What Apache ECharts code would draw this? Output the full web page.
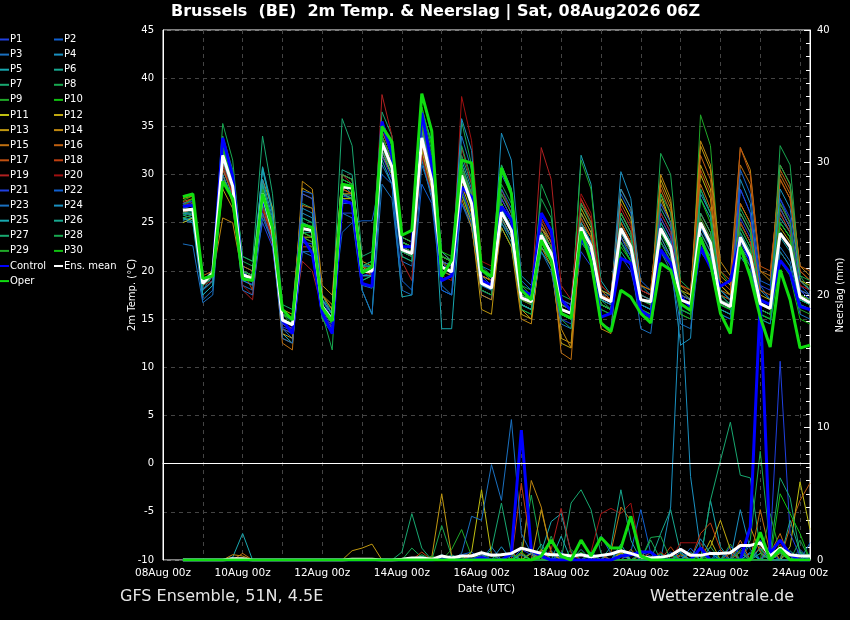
<!DOCTYPE html>
<html><head><meta charset="utf-8">
<script src="https://cdn.jsdelivr.net/npm/echarts/dist/echarts.min.js"></script>
<style>html,body{margin:0;padding:0;background:#000;}#c{width:850px;height:620px;}</style>
</head><body><div id="c"></div>
<script>
// time: hours since 08Aug 00z; first point 08Aug 12z, 6-hourly, 64 points
const firstHour = 12;
const stepHours = 6;
const tickLabels = ['08Aug 00z','10Aug 00z','12Aug 00z','14Aug 00z','16Aug 00z','18Aug 00z','20Aug 00z','22Aug 00z','24Aug 00z'];
const memberNames = ['P1','P2','P3','P4','P5','P6','P7','P8','P9','P10','P11','P12','P13','P14','P15','P16','P17','P18','P19','P20','P21','P22','P23','P24','P25','P26','P27','P28','P29','P30'];
const memberColors = ['#2040e0','#1060d0','#1a70c0','#1a90c0','#18a8b0','#18a890','#18a870','#18a850','#20a828','#10c010',
  '#c0c010','#c0a810','#c09810','#c08810','#c07010','#c06010','#c05010','#c04010','#b02020','#a01010',
  '#2040e0','#1060d0','#1a70c0','#1a90c0','#18a8b0','#18a890','#18a870','#18a850','#20a828','#10c010'];

// ---- 2m temperature (°C) ----
const tControl = [26.7,26.8,19.0,19.7, 33.8,29.8,19.7,19.0, 27.5,24.5,14.9,13.5, 23.5,21.8,15.6,13.5, 27.3,27.0,18.7,18.4, 35.5,32.0,22.5,22.5, 36.4,31.0,19.0,19.5, 28.7,27.7,19.0,18.5, 26.7,25.3,18.0,17.5, 26.0,24.2,17.0,15.9, 23.5,21.5,15.2,15.6, 21.3,20.8,15.9,15.2, 22.2,20.8,17.3,16.3, 22.5,20.4,18.4,19.0, 23.5,21.1,17.0,16.5, 21.1,19.8,16.3,16.0];
const tMean = [26.3,26.4,18.7,19.8, 32.0,28.8,19.6,19.2, 28.0,24.2,14.9,14.4, 24.4,24.2,16.3,14.9, 28.7,28.6,19.9,20.0, 33.3,30.8,22.2,21.8, 33.8,29.4,20.4,19.9, 29.9,27.0,18.7,18.2, 26.1,24.2,17.2,16.8, 23.7,21.8,16.0,15.6, 24.5,22.6,17.3,16.8, 24.4,22.5,17.0,16.8, 24.4,22.5,17.0,16.6, 25.0,22.9,16.8,16.3, 23.5,21.5,16.6,16.1, 23.9,22.5,17.3,16.7];
const tOper = [27.7,28.0,19.2,19.5, 29.3,27.5,19.2,19.0, 28.0,24.5,16.0,14.9, 24.8,24.5,16.2,14.8, 29.0,28.8,19.8,20.4, 35.0,33.4,23.7,24.2, 38.4,34.5,19.4,21.1, 31.5,31.2,20.1,19.4, 30.7,28.0,18.0,17.0, 23.2,21.1,15.6,15.1, 24.1,21.0,14.6,13.7, 18.0,17.3,15.6,14.6, 20.8,20.1,16.6,15.9, 23.5,20.8,15.6,13.5, 22.5,19.4,15.2,12.1, 20.1,17.0,12.0,12.3];

const tP1 = [26.8,27.0,18.5,19.5, 33.0,29.5,19.0,18.6, 27.0,23.5,14.2,13.8, 23.0,22.8,15.8,14.2, 27.8,27.5,19.5,19.8, 33.5,31.5,22.5,22.0, 35.0,31.0,21.0,19.5, 28.5,25.5,17.5,17.0, 25.0,23.5,16.5,16.0, 22.5,21.0,15.0,14.5, 22.0,20.5,16.0,15.5, 21.5,20.0,15.5,15.0, 23.0,21.5,16.0,15.5, 22.5,21.0,16.0,15.5, 25.5,23.5,17.0,16.5, 26.0,24.0,18.0,17.0];
const tP2 = [27.0,27.3,18.9,20.2, 31.5,28.0,20.0,19.5, 29.0,25.0,15.5,14.8, 25.0,24.5,16.5,15.2, 28.0,27.8,20.5,21.0, 34.5,32.0,23.0,22.5, 33.0,28.5,20.0,19.5, 30.5,28.0,19.5,18.5, 27.0,25.0,17.5,17.0, 25.0,23.0,17.0,16.5, 26.0,24.0,18.0,17.5, 28.0,26.0,19.0,18.0, 24.0,22.0,16.5,16.0, 22.0,20.5,15.5,15.0, 28.5,26.0,18.5,17.0, 27.5,25.0,18.5,17.5];
const tP3 = [25.2,25.0,17.0,18.0, 30.5,28.0,18.5,18.0, 27.5,24.0,14.0,13.0, 22.0,22.0,15.0,13.5, 27.0,27.0,18.5,18.2, 31.0,29.0,21.0,20.5, 32.0,28.0,18.0,17.5, 27.0,24.5,18.0,17.5, 27.5,25.5,16.5,16.0, 24.0,22.5,15.5,15.0, 24.5,23.0,17.5,17.5, 25.5,23.5,18.0,17.5, 26.0,24.0,17.5,17.0, 23.0,21.5,16.5,16.0, 22.0,20.5,16.0,15.5, 22.5,21.0,16.5,16.0];
const tP4 = [26.0,26.0,18.0,19.0, 31.0,28.5,20.5,20.0, 30.5,26.0,15.5,15.0, 26.0,25.5,17.0,15.5, 30.0,29.5,20.5,20.5, 35.5,33.0,23.0,22.5, 31.5,27.5,20.5,20.0, 31.5,28.5,18.5,18.0, 34.3,31.5,19.5,18.5, 24.5,22.5,17.0,16.5, 27.0,25.0,18.0,17.0, 30.3,27.5,18.5,17.5, 23.0,21.0,12.3,13.0, 28.5,26.0,18.0,17.0, 29.5,27.0,18.0,17.0, 27.0,25.0,18.0,17.5];
const tP5 = [25.5,25.2,18.0,19.5, 31.0,27.5,19.5,19.0, 30.8,26.5,13.5,12.5, 25.5,25.0,17.5,15.5, 29.0,28.0,18.0,15.5, 31.5,29.0,17.3,17.5, 35.5,31.5,14.0,14.0, 28.0,25.0,18.0,17.5, 26.5,24.5,17.5,17.0, 22.0,20.5,15.5,15.0, 32.0,29.0,19.0,17.5, 26.0,24.0,17.0,16.5, 25.0,23.0,16.5,16.0, 27.5,25.5,17.5,16.5, 24.5,22.5,16.5,16.0, 25.5,24.0,17.0,16.5];
const tP6 = [25.3,25.5,18.5,19.8, 32.5,29.0,20.0,19.5, 28.5,24.5,15.0,14.5, 24.0,24.0,16.0,14.5, 30.5,30.0,20.5,21.0, 34.0,31.5,22.5,22.0, 32.5,28.5,21.0,20.5, 30.5,27.5,19.5,19.0, 24.5,22.5,16.5,16.0, 23.5,22.0,16.5,16.0, 24.0,22.0,17.5,17.0, 24.0,22.0,17.0,16.5, 26.5,24.5,17.5,17.0, 24.0,22.0,16.5,16.0, 23.0,21.0,16.0,15.5, 24.0,22.5,17.0,16.5];
const tP7 = [26.5,26.8,19.0,20.0, 33.5,30.0,21.5,21.0, 34.0,28.0,16.5,16.0, 27.0,26.5,17.0,16.0, 35.8,33.0,21.5,22.0, 36.5,34.0,23.5,23.0, 34.5,30.0,21.5,21.0, 32.0,29.0,20.0,19.0, 28.0,26.0,18.0,17.5, 25.0,23.0,16.5,16.0, 25.5,23.5,17.5,17.0, 24.5,22.5,17.5,17.0, 24.5,22.5,17.0,16.5, 26.0,24.0,17.5,17.0, 25.0,23.0,17.0,16.5, 25.0,23.5,17.5,17.0];
const tP8 = [25.8,26.0,19.0,20.0, 35.3,31.5,21.0,20.5, 29.0,25.0,15.5,15.0, 25.5,25.0,16.5,15.0, 29.5,29.0,20.0,20.5, 33.0,30.5,22.0,21.5, 35.0,31.0,21.0,20.5, 35.5,31.0,20.5,19.5, 29.0,27.0,18.5,18.0, 27.5,25.5,17.5,17.0, 25.0,23.0,17.0,16.5, 25.0,23.0,17.0,16.5, 32.2,30.0,19.0,18.0, 24.5,22.5,16.5,16.0, 24.0,22.0,16.5,16.0, 33.0,31.0,19.5,18.0];
const tP9 = [26.0,26.5,19.0,19.5, 32.0,29.0,19.5,19.0, 27.5,24.0,15.0,14.5, 24.5,24.0,16.0,15.0, 28.5,28.0,19.0,19.5, 32.5,30.0,21.5,21.0, 36.0,32.0,21.0,20.5, 29.5,26.5,18.0,17.5, 31.0,28.5,18.5,17.5, 23.0,21.5,16.0,15.5, 31.5,28.5,18.5,17.5, 23.5,21.5,16.5,16.0, 22.0,20.5,15.5,15.0, 36.2,33.0,20.0,18.5, 22.5,20.5,15.5,15.0, 22.0,20.5,16.0,15.5];
const tP10 = [27.3,27.8,19.0,19.5, 30.0,27.5,19.0,19.0, 28.5,25.0,15.5,14.5, 25.0,24.5,16.5,15.0, 29.0,28.5,20.0,20.0, 34.0,31.5,22.5,22.0, 37.0,33.0,21.5,21.0, 31.0,28.0,19.0,18.5, 24.5,22.5,16.0,15.5, 24.0,22.0,15.5,15.0, 24.0,22.0,16.5,16.0, 23.0,21.0,16.0,15.5, 24.5,22.5,16.5,16.0, 27.5,25.0,17.0,16.0, 21.5,20.0,15.0,14.5, 21.0,19.5,15.0,14.5];
const tP11 = [25.0,25.5,18.0,19.0, 30.0,27.0,20.0,19.5, 26.5,23.5,15.5,15.0, 23.5,23.5,17.0,15.5, 27.5,27.5,20.0,20.0, 32.0,30.0,22.5,22.0, 33.5,29.5,21.5,21.0, 29.5,27.0,19.5,19.0, 27.0,25.0,16.5,16.0, 24.5,23.0,16.5,16.0, 26.5,24.5,18.0,17.5, 27.5,25.5,18.5,18.0, 28.0,25.0,17.5,17.0, 30.0,27.5,18.5,17.5, 25.0,23.0,17.0,16.5, 26.5,24.5,19.0,18.5];
const tP12 = [26.0,26.5,18.5,19.5, 31.5,28.5,19.5,19.0, 29.5,26.5,16.0,15.5, 28.0,27.5,17.5,16.0, 28.0,28.0,20.5,20.0, 33.0,30.5,23.0,22.5, 32.5,28.5,21.0,20.5, 29.0,26.0,19.5,19.0, 25.5,23.5,15.5,15.0, 22.5,21.0,12.5,12.0, 26.0,24.0,16.5,16.0, 24.5,22.5,17.0,16.5, 29.5,27.0,18.0,17.5, 31.0,28.5,18.5,17.5, 27.0,25.0,17.5,17.0, 24.5,23.0,17.5,17.0];
const tP13 = [25.5,25.8,18.0,19.0, 28.5,26.5,19.5,19.0, 26.0,23.0,13.5,13.0, 28.6,28.0,17.5,16.5, 28.0,27.5,20.5,19.5, 33.0,31.0,23.5,23.0, 33.0,29.0,21.0,20.0, 28.0,25.0,16.0,15.5, 25.5,23.5,16.0,15.0, 22.5,20.5,13.0,12.5, 25.0,23.5,16.5,16.0, 23.5,22.0,16.5,16.0, 27.5,25.0,17.5,17.0, 33.0,30.5,19.5,18.5, 26.0,24.0,17.0,16.5, 29.5,27.5,19.0,18.0];
const tP14 = [27.5,27.8,18.5,19.5, 25.5,25.0,19.5,19.5, 27.5,24.5,14.5,14.0, 29.3,28.5,18.5,17.5, 30.0,29.5,21.0,20.5, 32.0,30.0,22.5,22.0, 32.0,28.0,20.0,19.5, 27.5,24.5,17.5,17.0, 24.5,22.5,15.0,14.5, 23.0,21.0,14.0,12.0, 23.5,22.0,14.0,13.5, 26.0,24.0,17.5,17.0, 30.0,27.5,18.5,17.5, 33.5,31.0,21.0,19.5, 32.8,30.5,20.0,19.0, 31.0,29.0,20.5,19.5];
const tP15 = [27.0,27.5,19.0,20.0, 31.0,28.0,20.0,19.5, 26.5,24.0,12.5,11.8, 26.8,26.5,17.5,16.0, 28.5,28.0,20.0,20.0, 32.5,30.5,23.0,22.5, 34.5,30.5,22.0,21.0, 30.0,27.0,19.0,18.5, 27.0,25.0,17.5,17.0, 24.5,22.5,11.5,10.8, 24.0,22.5,17.0,16.5, 25.0,23.0,17.0,16.5, 29.0,26.5,18.5,18.0, 29.0,26.5,18.0,17.5, 31.0,29.0,20.0,19.5, 30.0,28.0,20.0,19.0];
const tP16 = [27.8,28.0,19.5,20.0, 30.5,28.0,20.5,20.0, 28.0,24.5,13.0,12.5, 23.5,23.0,15.5,14.0, 29.0,28.5,20.0,20.5, 33.5,31.0,22.5,22.0, 35.0,31.0,21.5,21.0, 31.0,28.0,19.5,19.0, 26.0,24.0,17.0,16.5, 25.5,23.5,16.0,15.5, 27.0,25.0,18.0,17.0, 28.5,26.5,18.5,18.0, 28.5,26.0,18.0,17.0, 32.0,29.5,20.0,19.0, 27.0,25.0,18.0,17.5, 30.5,28.5,20.5,20.0];
const tP17 = [27.2,27.5,19.0,19.5, 31.5,29.0,20.0,19.0, 26.0,23.0,14.0,13.5, 24.0,23.5,16.0,14.5, 28.0,27.5,19.5,19.5, 34.0,31.5,22.0,21.5, 34.0,30.0,21.5,21.0, 30.5,27.5,19.0,18.5, 25.5,23.5,17.0,16.5, 23.5,22.0,16.0,15.5, 27.5,25.5,17.5,17.0, 27.0,25.0,18.0,17.5, 25.5,23.5,17.5,17.0, 30.5,28.0,19.0,18.0, 32.8,30.0,20.5,20.0, 29.5,27.5,20.0,19.0];
const tP18 = [26.5,27.0,19.0,20.0, 32.5,29.5,20.0,18.0, 27.0,23.5,14.5,14.0, 22.5,22.5,16.0,14.5, 28.5,28.0,20.0,20.0, 34.5,32.0,22.5,22.0, 33.0,29.0,20.5,20.0, 30.0,27.0,19.0,18.5, 27.5,25.5,17.5,17.0, 25.0,23.0,16.5,16.0, 25.5,23.5,17.5,17.0, 25.0,23.0,17.5,17.0, 27.0,25.0,18.5,18.0, 26.0,24.0,17.5,17.0, 23.0,21.5,16.5,16.0, 26.0,24.0,18.0,17.5];
const tP19 = [26.8,27.2,18.8,19.5, 32.0,28.5,18.0,17.0, 27.0,23.0,14.5,14.0, 21.0,20.0,16.0,14.5, 30.0,29.0,20.5,20.0, 38.3,34.0,21.0,19.0, 33.5,29.0,20.5,20.0, 32.8,29.0,20.0,19.5, 28.5,26.0,18.0,17.5, 32.8,29.5,18.5,17.0, 27.5,25.0,18.5,17.5, 26.5,24.5,18.0,17.5, 26.0,24.0,17.5,17.0, 25.5,23.5,17.0,16.5, 25.0,23.0,17.0,16.5, 26.5,24.5,18.5,18.0];
const tP20 = [26.0,26.5,18.5,19.0, 31.0,28.0,18.5,17.5, 26.5,22.5,14.0,13.5, 23.0,22.5,15.5,14.0, 28.0,27.5,20.0,19.5, 33.5,31.0,22.0,21.5, 32.0,28.0,19.5,19.0, 38.1,33.5,21.0,20.5, 28.0,26.0,17.5,17.0, 25.5,23.5,17.0,16.5, 28.0,26.0,18.5,17.5, 24.0,22.0,17.0,16.5, 23.5,21.5,16.5,16.0, 24.0,22.0,16.5,16.0, 22.5,21.0,16.0,15.5, 27.0,25.0,18.5,18.0];
const tP21 = [27.0,27.2,19.0,19.8, 33.0,30.0,20.0,19.5, 25.0,22.5,14.5,14.0, 28.0,27.5,17.0,15.0, 26.0,26.0,19.5,19.5, 32.0,29.5,22.0,21.5, 34.0,30.0,21.0,20.5, 28.5,25.5,18.0,17.5, 27.5,25.5,17.5,17.0, 24.0,22.0,15.5,15.0, 23.5,21.5,16.5,16.0, 23.5,21.5,16.5,16.0, 25.5,23.5,17.0,16.5, 23.5,21.5,16.5,16.0, 28.5,26.0,18.5,18.0, 27.5,25.5,18.0,17.0];
const tP22 = [26.5,26.8,18.0,19.0, 32.5,29.0,19.5,19.0, 26.0,23.0,14.0,13.5, 28.3,28.0,17.0,15.5, 24.0,25.0,25.2,25.2, 30.0,29.0,19.0,18.0, 29.0,27.0,18.0,17.5, 27.0,25.0,18.5,18.0, 30.0,28.0,19.0,18.0, 26.0,24.0,17.0,16.5, 24.0,22.0,17.0,16.5, 23.0,21.5,16.5,16.0, 27.0,25.0,17.5,17.0, 24.5,22.5,16.5,16.0, 30.5,28.0,19.0,18.5, 26.5,24.5,18.0,17.5];
const tP23 = [22.8,22.6,16.7,17.5, 30.0,27.5,18.0,17.5, 25.5,23.0,13.0,12.5, 22.0,21.5,15.5,14.0, 26.0,25.5,18.0,15.5, 29.0,27.5,18.0,17.5, 31.0,28.0,18.5,17.5, 34.0,30.5,20.5,20.0, 28.5,26.5,16.5,16.0, 22.0,20.0,14.5,14.0, 23.5,22.0,14.5,14.0, 23.0,21.0,14.0,13.5, 22.0,20.0,14.5,14.0, 23.0,21.0,15.5,15.0, 21.5,20.0,15.0,14.5, 22.0,20.5,15.5,15.0];
const tP24 = [26.0,25.8,17.5,18.5, 29.5,27.5,19.0,18.5, 29.5,25.5,15.0,14.5, 26.5,26.0,17.0,15.5, 29.5,29.0,20.5,20.5, 33.0,30.5,23.0,22.5, 34.5,30.5,20.5,20.0, 35.8,32.5,20.0,19.5, 26.5,24.5,17.5,17.0, 23.5,22.0,16.0,15.5, 25.0,23.0,17.0,16.5, 28.5,26.5,17.5,17.0, 24.5,22.5,17.0,16.5, 28.0,26.0,18.0,17.0, 23.5,21.5,16.0,15.5, 28.5,26.5,19.0,18.0];
const tP25 = [25.5,25.0,17.5,18.5, 31.5,28.5,19.5,19.0, 30.8,26.0,15.0,14.5, 25.0,24.5,16.5,15.0, 28.0,27.5,19.5,19.5, 33.5,31.0,22.0,21.5, 36.5,33.5,22.0,21.0, 30.5,27.5,19.0,18.5, 25.5,23.5,16.5,16.0, 23.0,21.5,15.5,15.0, 24.0,22.0,16.5,16.0, 24.0,22.0,16.5,16.0, 23.5,21.5,16.0,15.5, 24.0,22.0,16.0,15.5, 22.5,21.0,15.5,15.0, 23.5,22.0,16.5,16.0];
const tP26 = [25.8,25.5,18.5,19.5, 32.0,29.0,20.0,19.5, 29.0,25.0,15.5,15.0, 24.5,24.0,16.0,14.5, 27.5,27.0,19.0,19.5, 32.5,30.0,21.5,21.0, 35.5,31.5,21.5,21.0, 30.0,27.0,19.0,18.5, 25.0,23.0,16.5,16.0, 22.5,21.0,15.5,15.0, 23.0,21.5,16.5,16.0, 22.0,20.5,16.0,15.5, 25.0,23.0,16.5,16.0, 23.0,21.5,16.0,15.5, 24.0,22.0,16.0,15.5, 24.0,22.5,16.5,16.0];
const tP27 = [26.0,26.2,18.8,19.8, 32.5,29.5,20.0,19.0, 28.0,24.5,15.0,14.5, 24.0,23.5,16.0,14.5, 28.0,27.5,20.0,20.5, 33.0,30.5,22.5,22.0, 33.5,29.5,20.5,20.0, 31.0,28.0,19.0,18.5, 31.0,28.5,18.0,17.5, 24.0,22.5,16.5,16.0, 23.5,22.0,16.5,16.0, 25.5,23.5,17.0,16.5, 24.0,22.0,16.5,16.0, 26.0,24.0,17.0,16.5, 26.0,24.0,17.0,16.5, 25.0,23.5,17.0,16.5];
const tP28 = [25.5,25.8,18.5,19.5, 34.0,30.5,21.5,21.0, 28.0,24.5,15.5,15.0, 23.5,23.0,15.5,11.8, 30.0,29.5,20.5,21.0, 35.5,33.0,23.5,23.0, 36.5,32.5,21.5,21.0, 33.0,29.5,20.0,19.5, 28.0,26.0,16.0,15.5, 29.0,26.5,15.0,14.0, 27.0,25.0,17.0,16.0, 26.0,24.0,17.0,16.5, 28.0,26.0,18.0,17.0, 28.5,26.0,17.5,16.5, 26.5,24.5,17.0,16.5, 31.0,29.0,19.5,19.0];
const tP29 = [26.2,26.5,19.0,20.0, 32.5,29.5,20.0,19.5, 28.5,25.0,15.5,15.0, 23.0,22.5,15.0,13.5, 29.0,28.5,20.0,20.0, 34.0,31.5,22.0,21.5, 35.0,31.0,21.5,21.0, 28.0,25.5,18.0,17.5, 26.0,24.0,17.0,16.5, 24.0,22.5,16.0,15.5, 24.5,22.5,16.5,16.0, 23.0,21.0,16.0,15.5, 23.0,21.0,15.5,15.0, 25.5,23.5,16.5,16.0, 24.5,22.5,16.0,15.5, 27.0,25.0,17.5,17.0];
const tP30 = [26.8,27.5,19.2,19.8, 33.0,29.0,19.5,19.0, 27.0,24.0,15.0,14.5, 24.0,23.5,16.0,14.5, 29.5,29.0,20.0,20.0, 35.0,32.5,23.0,22.5, 37.0,33.0,22.0,21.5, 30.5,27.5,19.0,18.5, 27.0,25.0,17.5,17.0, 23.0,21.5,15.5,15.0, 23.0,21.5,16.0,15.5, 22.5,21.0,15.5,15.0, 24.0,22.0,16.0,15.5, 25.0,23.0,16.5,16.0, 23.0,21.5,15.5,15.0, 25.0,23.5,16.5,16.0];

// ---- 6-hourly precipitation (mm) ----
const pControl = [0,0,0,0,0,0,0,0, 0,0,0,0,0,0,0,0, 0,0,0,0,0,0,0,0, 0,0,.1,0,0,0,.2,0, 0,.5,9.8,.7,.3,0,0,0, 0,0,0,0,.3,.4,.6,.6, 0,0,0,0,.9,0,0,0, 0,2.5,19.5,.5,1.5,.4,0,0];
const pMean = [0,0,0,0,0,.1,.1,0, 0,0,0,0,0,0,0,0, 0,.05,.05,.05,0,0,.05,.15, .15,.05,.3,.15,.3,.3,.55,.35, .4,.5,.9,.7,.5,.4,.4,.3, .4,.25,.35,.45,.7,.5,.25,.15, .2,.35,.8,.35,.35,.5,.5,.55, 1.1,1.1,1.3,.3,.9,.4,.3,.3];
const pOper = [0,0,0,0,0,0,0,0, 0,0,0,0,0,0,0,0, 0,0,0,0,0,0,0,0, 0,0,0,0,0,0,0,0, 0,0,0,0,.3,1.5,.3,0, 1.5,.3,1.7,.9,.9,3.3,.3,0, 0,0,0,0,0,0,0,0, 0,0,2.1,0,.8,0,0,0];

const pP1 = [0,0,0,0,0,0,0,0, 0,0,0,0,0,0,0,0, 0,0,0,0,0,0,0,0, 0,0,0,0,0,0,.3,.5, 0,0,.8,.4,0,0,0,0, 0,0,.3,0,0,0,.6,.3, 0,0,0,0,.4,0,0,1, .5,0,1.5,.4,0,0,.5,0];
const pP2 = [0,0,0,0,0,0,0,0, 0,0,0,0,0,0,0,0, 0,0,0,0,0,0,0,0, 0,0,0,0,.4,.6,0,0, 0,.5,0,0,0,.7,0,0, 0,0,0,0,.4,.6,3.8,.5, 0,0,0,0,0,.6,0,0, 0,1.2,0,0,.8,.3,0,0];
const pP3 = [0,0,0,0,0,0,0,0, 0,0,0,0,0,0,0,0, 0,0,0,0,0,0,0,0, .2,0,0,0,0,0,0,1, 0,0,0,.6,0,0,.3,0, 0,0,0,.5,0,0,0,0, 0,0,.3,0,0,0,.8,0, 0,.6,0,0,0,0,.4,0];
const pP4 = [0,0,0,0,0,0,0,0, 0,0,0,0,0,0,0,0, 0,0,0,0,0,0,0,0, 0,0,0,0,0,.3,0,0, 1,0,0,0,0,0,.5,0, 0,0,0,0,0,0,0,0, 0,4,20.5,6.3,.8,0,0,0, 0,.5,0,0,.6,0,0,0];
const pP5 = [0,0,0,0,0,.2,2,0, 0,0,0,0,0,0,0,0, 0,0,0,0,0,0,0,0, 0,0,.4,0,0,0,0,0, 0,0,0,0,.6,2.9,3.5,.6, 0,0,0,0,.8,0,0,0, 0,0,0,0,0,4.5,1,0, 0,0,0,0,0,.7,0,0];
const pP6 = [0,0,0,0,0,0,0,0, 0,0,0,0,0,0,0,0, 0,0,0,0,0,0,0,0, .3,0,0,.4,0,0,0,0, 0,0,0,.5,0,0,0,0, .8,0,0,0,0,0,0,0, 2,3.8,.5,0,0,0,0,0, .6,0,0,.8,0,0,0,.4];
const pP7 = [0,0,0,0,0,0,0,0, 0,0,0,0,0,0,0,0, 0,0,0,0,0,0,.6,3.5, .9,0,0,0,0,0,0,0, 0,0,0,0,0,0,0,4.3, 5.3,3.8,.5,0,0,0,0,0, 0,0,0,0,0,4.5,7.5,10.4, 6.4,6.2,.8,0,0,0,0,0];
const pP8 = [0,0,0,0,0,0,0,0, 0,0,0,0,0,0,0,0, 0,0,0,0,0,0,0,.9, .2,0,2.6,.3,0,0,0,0, 0,0,.6,4.9,.8,0,0,0, 0,0,0,0,0,0,0,1.5, 0,0,0,0,0,0,0,0, 0,1.5,8.2,1,0,0,0,0];
const pP9 = [0,0,0,0,0,0,0,0, 0,0,0,0,0,0,0,0, 0,0,0,0,0,0,0,0, 0,0,0,.8,2.3,.3,0,0, 0,0,0,0,0,.4,0,0, 0,0,0,0,.6,0,0,0, 0,0,0,0,.4,0,0,1.2, 0,0,0,0,0,0,.6,.3];
const pP10 = [0,0,0,0,0,0,0,0, 0,0,0,0,0,0,0,0, 0,0,0,0,0,0,0,0, 0,0,0,0,.2,0,0,0, 0,.4,0,0,0,0,0,0, .6,0,0,0,0,0,0,0, .5,0,0,0,0,0,0,.7, 0,0,.5,0,1,0,0,0];
const pP11 = [0,0,0,0,0,0,0,0, 0,0,0,0,0,0,0,0, 0,0,0,0,0,0,0,0, 0,0,0,0,0,.6,5.3,.4, 0,0,0,0,.8,0,0,0, 0,0,0,0,.5,0,0,0, 0,0,0,0,0,1.5,0,0, 0,0,0,0,0,1,5.9,2.3];
const pP12 = [0,0,0,0,0,0,0,0, 0,0,0,0,0,0,0,0, 0,0,0,0,0,0,0,0, 0,0,0,0,0,0,0,0, 0,0,0,.5,0,0,0,0, 0,.4,0,0,0,0,.3,0, 0,0,0,0,0,1,3,.8, 0,0,0,0,.5,0,0,0];
const pP13 = [0,0,0,0,0,0,0,0, 0,0,0,0,0,0,0,0, 0,.7,.9,1.2,0,0,0,0, 0,.2,5,.3,0,0,0,0, 0,0,0,0,3.8,.6,0,0, 0,0,0,0,.6,0,0,0, 0,0,0,0,0,0,0,0, 0,0,0,0,0,0,0,0];
const pP14 = [0,0,0,0,0,.4,.3,0, 0,0,0,0,0,0,0,0, 0,0,0,0,0,0,0,0, 0,0,0,0,0,0,0,0, 0,0,0,6,4,.5,0,0, 0,0,0,0,0,.8,0,0, 0,0,.4,0,0,0,0,0, 0,2.5,.6,0,0,0,0,0];
const pP15 = [0,0,0,0,0,0,.5,0, 0,0,0,0,0,0,0,0, 0,0,0,0,0,0,0,0, 0,0,0,0,0,.4,0,0, 0,0,.5,0,0,0,0,0, 0,0,0,.6,4,3,.4,0, 0,0,0,0,0,0,0,0, 0,0,3.8,.5,2,0,0,0];
const pP16 = [0,0,0,0,0,0,0,0, 0,0,0,0,0,0,0,0, 0,0,0,0,0,0,0,0, 0,0,0,0,0,0,.3,0, 0,0,0,0,.7,0,0,0, 0,0,.4,0,0,0,0,0, 0,0,0,.5,0,0,0,0, 1.5,0,0,0,0,2.5,4.5,5.8];
const pP17 = [0,0,0,0,0,0,0,0, 0,0,0,0,0,0,0,0, 0,0,0,0,0,0,0,0, 0,0,.3,0,0,0,0,0, 0,.6,0,0,0,0,0,.4, 0,0,0,0,0,0,0,.6, 0,0,0,0,.8,0,0,.5, 0,0,0,1.2,0,0,0,0];
const pP18 = [0,0,0,0,0,0,0,0, 0,0,0,0,0,0,0,0, 0,0,0,0,0,0,0,0, .6,0,0,0,0,0,0,0, 0,0,5.8,.8,0,0,0,0, 0,.5,0,0,0,0,0,0, 0,1,0,0,2,2.8,.8,0, 0,0,1,0,0,0,0,0];
const pP19 = [0,0,0,0,0,0,0,0, 0,0,0,0,0,0,0,0, 0,0,0,0,0,0,0,0, 0,0,0,0,0,.4,0,0, 0,0,0,0,0,.8,3.9,.5, 0,0,0,0,0,0,0,0, .6,0,0,0,0,0,0,0, .7,0,0,0,1.2,0,0,0];
const pP20 = [0,0,0,0,0,0,0,0, 0,0,0,0,0,0,0,0, 0,0,0,0,0,0,0,0, 0,0,0,0,0,0,0,0, 0,0,0,0,0,0,0,0, 0,.6,3.5,3.9,3.5,4.3,.5,0, 0,0,1.3,1.3,1.3,0,0,0, 0,0,0,0,0,0,0,0];
const pP21 = [0,0,0,0,0,0,0,0, 0,0,0,0,0,0,0,0, 0,0,0,0,0,0,0,0, 0,0,0,0,0,0,0,.4, 0,0,0,0,0,0,.6,0, 0,0,0,0,0,.5,0,0, 0,0,0,0,.8,0,0,0, 1,0,0,1,15,2,.3,0];
const pP22 = [0,0,0,0,0,0,0,0, 0,0,0,0,0,0,0,0, 0,0,0,0,0,0,0,0, 0,0,0,0,0,0,0,0, 0,.3,0,0,0,0,0,0, .5,0,1.8,.5,0,0,0,0, 0,.6,0,.9,0,0,.5,0, 0,0,0,0,0,0,0,1.3];
const pP23 = [0,0,0,0,0,0,0,0, 0,0,0,0,0,0,0,0, 0,0,0,0,0,0,0,0, 0,0,0,0,.5,3.3,3,7.2, 4.5,10.6,2,.5,0,0,0,0, 0,.6,0,0,0,0,0,0, .4,0,0,0,0,0,0,.7, 0,0,0,0,0,0,.8,0];
const pP24 = [0,0,0,0,0,0,0,0, 0,0,0,0,0,0,0,0, 0,0,0,0,0,0,0,0, 0,0,0,0,0,0,.4,0, 0,0,0,0,0,1.5,0,0, 0,0,0,0,.4,0,0,0, 0,0,.6,0,1.6,.5,0,0, 3.8,.8,0,0,0,0,0,0];
const pP25 = [0,0,0,0,0,0,0,0, 0,0,0,0,0,0,0,0, 0,0,0,0,0,0,0,0, 0,0,0,.3,0,0,0,0, 0,0,.4,0,0,0,1.8,0, 0,0,0,0,1.2,0,0,0, 0,0,0,.6,0,0,0,0, 0,0,.9,0,0,0,0,.5];
const pP26 = [0,0,0,0,0,0,0,0, 0,0,0,0,0,0,0,0, 0,0,0,0,0,0,0,0, 0,0,0,0,0,0,0,0, 0,0,0,0,1.2,0,0,0, 0,0,0,1,5.3,1.5,0,0, 0,.4,0,0,0,0,0,0, 0,0,.5,0,0,3,.6,0];
const pP27 = [0,0,0,0,0,0,0,0, 0,0,0,0,0,0,0,0, 0,0,0,0,0,0,0,0, 0,0,0,0,0,0,0,.8, 4.3,.5,0,0,0,0,0,0, 0,0,0,0,0,0,0,0, 0,0,0,0,0,0,0,0, 0,0,0,.5,6.2,4.7,.5,0];
const pP28 = [0,0,0,0,0,0,0,0, 0,0,0,0,0,0,0,0, 0,0,0,0,0,0,0,0, .4,0,0,0,0,0,.6,0, 0,0,0,0,0,1.8,0,0, 0,0,0,0,0,0,0,1.7, 1.8,0,0,0,0,1,0,0, 0,0,0,0,0,0,1.5,0];
const pP29 = [0,0,0,0,0,0,0,0, 0,0,0,0,0,0,0,0, 0,0,0,0,0,0,0,0, 0,.3,0,0,0,0,0,0, .5,0,0,0,0,0,0,.8, 0,0,0,0,0,0,.4,0, 0,0,0,0,.4,0,0,0, 0,0,0,3.5,.5,0,0,0];
const pP30 = [0,0,0,0,0,0,0,0, 0,0,0,0,0,0,0,0, 0,0,0,0,0,0,0,0, 0,0,.3,0,0,0,0,0, 0,0,.6,0,0,0,0,0, 0,.4,0,0,0,0,0,0, 0,.4,0,0,0,0,0,0, .8,0,0,0,5,3.5,2,0];

const memberTemp = [tP1,tP2,tP3,tP4,tP5,tP6,tP7,tP8,tP9,tP10,tP11,tP12,tP13,tP14,tP15,tP16,tP17,tP18,tP19,tP20,tP21,tP22,tP23,tP24,tP25,tP26,tP27,tP28,tP29,tP30];
const memberPrecip = [pP1,pP2,pP3,pP4,pP5,pP6,pP7,pP8,pP9,pP10,pP11,pP12,pP13,pP14,pP15,pP16,pP17,pP18,pP19,pP20,pP21,pP22,pP23,pP24,pP25,pP26,pP27,pP28,pP29,pP30];

function toXY(arr){ return arr.map((v,i)=>[firstHour + stepHours*i, v]); }

const FONT = 'DejaVu Sans';
const series = [];
function addLine(name, color, width, temps, precip, extra){
  series.push(Object.assign({type:'line', name:name, yAxisIndex:0, data:toXY(temps), symbol:'none', showSymbol:false,
    color:color, lineStyle:{color:color, width:width}, silent:true, emphasis:{disabled:true}}, extra||{}));
  series.push({type:'line', name:name, yAxisIndex:1, data:toXY(precip), symbol:'none', showSymbol:false,
    color:color, lineStyle:{color:color, width:width}, silent:true, emphasis:{disabled:true}});
}
memberNames.forEach((n,k)=>addLine(n, memberColors[k], 1, memberTemp[k], memberPrecip[k]));
addLine('Control', '#0000ff', 3, tControl, pControl);
addLine('Ens. mean', '#ffffff', 3, tMean, pMean, {markLine:{silent:true, symbol:'none', label:{show:false},
  lineStyle:{color:'#ffffff', type:'solid', width:1}, data:[{yAxis:0}]}});
addLine('Oper', '#10dd10', 3, tOper, pOper);

const odd = memberNames.filter((n,k)=>k%2===0).concat(['Control','Oper']);
const even = memberNames.filter((n,k)=>k%2===1).concat(['Ens. mean']);
const legendCommon = {orient:'vertical', top:33, itemWidth:9, itemHeight:2, itemGap:2.1, icon:'rect', selectedMode:false,
  padding:0,
  textStyle:{color:'#ffffff', fontSize:10, fontFamily:FONT, lineHeight:13, padding:[0,0,0,-4]}};

const chart = echarts.init(document.getElementById('c'), null, {renderer:'canvas'});
chart.setOption({
  backgroundColor:'#000000',
  animation:false,
  textStyle:{fontFamily:FONT},
  legend:[Object.assign({data:odd, left:0}, legendCommon), Object.assign({data:even, left:54}, legendCommon)],
  grid:{left:163, right:40, top:30, bottom:60, show:true, borderColor:'#ffffff', borderWidth:1,
    containLabel:false, outerBoundsMode:'none'},
  xAxis:{type:'value', min:0, max:390, interval:24,
    axisLine:{show:true, lineStyle:{color:'#ffffff'}}, axisTick:{show:false},
    splitLine:{show:true, lineStyle:{color:'#444444', type:[4,4]}},
    axisLabel:{color:'#ffffff', fontSize:10.5, margin:8, showMinLabel:true, showMaxLabel:true, hideOverlap:false,
      formatter:v=> (v%48===0 ? tickLabels[v/48] : '')},
    name:'Date (UTC)', nameLocation:'middle', nameGap:24, nameMoveOverlap:false,
    nameTextStyle:{color:'#ffffff', fontSize:10.5}},
  yAxis:[
    {type:'value', min:-10, max:45, interval:5, position:'left',
      axisLine:{show:true, lineStyle:{color:'#ffffff'}}, axisTick:{show:false},
      splitLine:{show:true, lineStyle:{color:'#444444', type:[4,4]}},
      axisLabel:{color:'#ffffff', fontSize:10, margin:9},
      name:'2m Temp. (°C)', nameLocation:'middle', nameGap:26, nameRotate:90, nameMoveOverlap:false,
      nameTextStyle:{color:'#ffffff', fontSize:10}},
    {type:'value', min:0, max:40, interval:10, position:'right',
      axisLine:{show:true, lineStyle:{color:'#ffffff'}},
      axisTick:{show:true, inside:true, length:6, lineStyle:{color:'#ffffff'}},
      minorTick:{show:true, splitNumber:10, length:4, lineStyle:{color:'#ffffff'}},
      splitLine:{show:false},
      axisLabel:{color:'#ffffff', fontSize:10, margin:7},
      name:'Neerslag (mm)', nameLocation:'middle', nameGap:25, nameRotate:90, nameMoveOverlap:false,
      nameTextStyle:{color:'#ffffff', fontSize:10}}
  ],
  graphic:[
    {type:'text', left:171, top:4, style:{text:'Brussels  (BE)  2m Temp. & Neerslag | Sat, 08Aug2026 06Z', fill:'#ffffff', font:'bold 16px "DejaVu Sans"'}},
    {type:'text', left:120, top:589, style:{text:'GFS Ensemble, 51N, 4.5E', fill:'#e6e6e6', font:'16px "DejaVu Sans"'}},
    {type:'text', left:650, top:589, style:{text:'Wetterzentrale.de', fill:'#e6e6e6', font:'16px "DejaVu Sans"'}}
  ],
  series:series
});
</script>
</body></html>
